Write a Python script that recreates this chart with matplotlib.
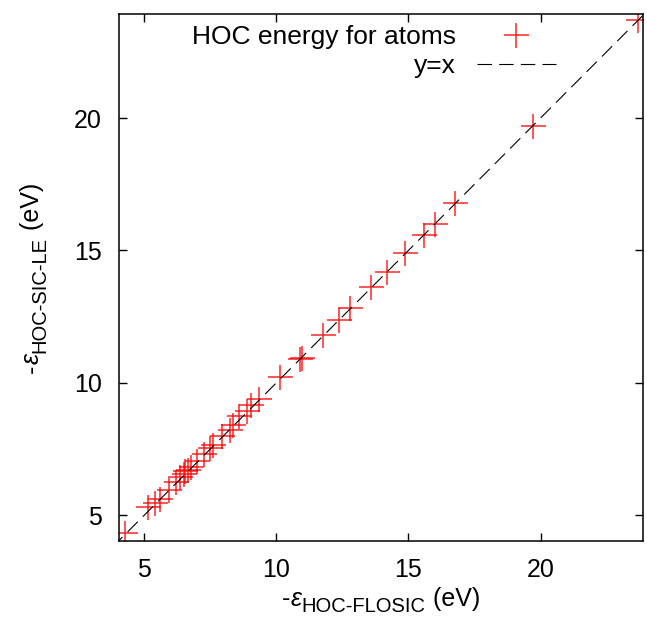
import numpy as np
import matplotlib.pyplot as plt

plt.rcParams['font.family'] = ['Liberation Sans', 'DejaVu Sans']

# HOC energies (eV)
flosic = [4.28, 5.15, 5.40, 5.60, 5.92, 6.20, 6.35, 6.50, 6.55, 6.65, 6.75,
          7.00, 7.25, 7.50, 7.60, 7.95, 8.25, 8.35, 8.60, 8.90, 9.05, 9.35,
          10.15, 10.90, 10.95, 11.78, 12.35, 12.80, 13.58, 14.20, 14.87,
          15.59, 16.00, 16.78, 19.70, 23.70]
sicle = [4.31, 5.30, 5.45, 5.62, 5.95, 6.25, 6.45, 6.55, 6.65, 6.70, 6.80,
         7.05, 7.30, 7.55, 7.65, 8.00, 8.20, 8.40, 8.75, 8.95, 9.15, 9.40,
         10.20, 10.90, 10.95, 11.80, 12.37, 12.83, 13.60, 14.18, 14.89,
         15.58, 15.99, 16.78, 19.70, 23.70]
xticks = [5, 10, 15, 20]
yticks = [5, 10, 15, 20]

fig = plt.figure(figsize=(6.47, 6.23), dpi=100)
ax = fig.add_axes([0.1836, 0.1316, 0.8102, 0.8459])

ax.plot(flosic, sicle, linestyle='none', marker='+', color='red',
        markersize=18, markeredgewidth=1.1, alpha=0.85,
        label='HOC energy for atoms')
line = np.array([0, 30])
ax.plot(line, line, color='black', linewidth=0.8, dashes=(13, 6.5), label='y=x')

ax.set_xlim(4.03, 23.88)
ax.set_ylim(4.02, 23.93)
ax.set_xticks(xticks)
ax.set_yticks(yticks)
ax.tick_params(direction='in', top=True, right=True, length=6, width=1,
               labelsize=18, pad=12)
for s in ax.spines.values():
    s.set_linewidth(1.1)

ax.legend(loc='upper right', bbox_to_anchor=(0.834, 0.979), frameon=False,
          markerfirst=False, fontsize=19, handlelength=3.0, handletextpad=0.8,
          labelspacing=0.2, borderpad=0, borderaxespad=0)


# gnuplot-like enhanced labels: main text 18pt, subscript 0.8 size shifted down
def fancy_label(pieces, cx, cy, rotate=False):
    r = fig.canvas.get_renderer()
    texts = []
    total = 0
    for s, size, style, drop in pieces:
        t = fig.text(0, 0, s, fontsize=size, style=style, transform=None,
                     ha='left', va='baseline')
        w = t.get_window_extent(r).width
        texts.append((t, w, drop))
        total += w
    pos = -total / 2
    for t, w, drop in texts:
        if rotate:
            t.set_rotation(90)
            t.set_rotation_mode('anchor')
            t.set_position((cx + drop, cy + pos))
        else:
            t.set_position((cx + pos, cy - drop))
        pos += w


H = 623
fancy_label([('-', 18, 'normal', 0), ('ε', 18, 'italic', 0),
             ('HOC-FLOSIC', 14.5, 'normal', 6), (' (eV)', 18, 'normal', 0)],
            381, H - 606)
fancy_label([('-', 18, 'normal', 0), ('ε', 18, 'italic', 0),
             ('HOC-SIC-LE', 14.5, 'normal', 6), (' (eV)', 18, 'normal', 0)],
            39, H - 278, rotate=True)

fig.savefig('out.png', dpi=100)
